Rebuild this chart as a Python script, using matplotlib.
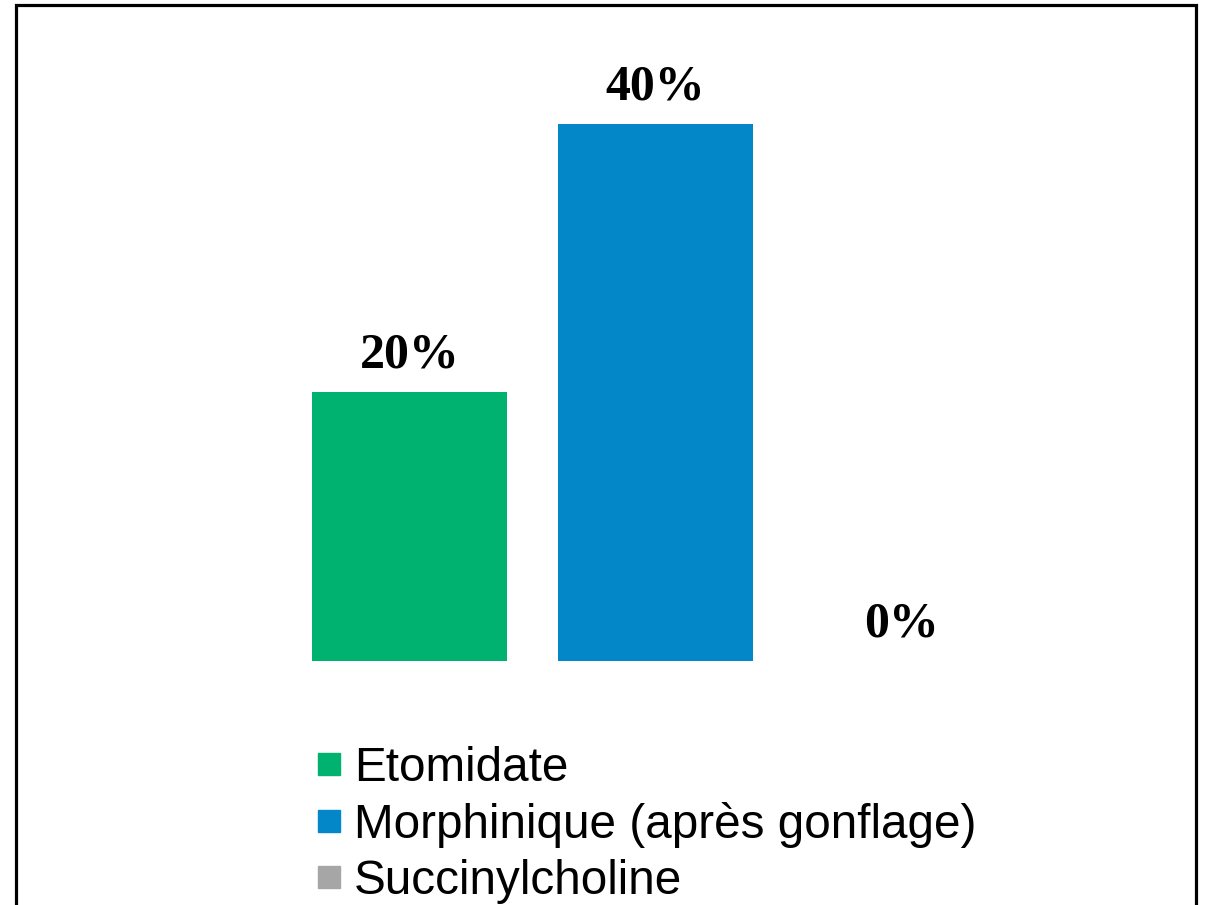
import matplotlib
matplotlib.use("Agg")
import matplotlib.pyplot as plt
from matplotlib.lines import Line2D
from matplotlib.patches import Rectangle

categories = ["Etomidate", "Morphinique (après gonflage)", "Succinylcholine"]
values = [20, 40, 0]
labels = ["20%", "40%", "0%"]
colors = ["#00B26F", "#0487C9", "#A6A6A6"]

W, H = 1207, 905
fig = plt.figure(figsize=(W / 100, H / 100), dpi=100)
fig.patch.set_facecolor("white")

# axes placement in pixels
bottom_px = 661
scale = 13.425  # px per %
ymax = 45
ax_left = 409.5 - 123
ax_w = 3 * 246
ax_h = ymax * scale
ax = fig.add_axes([ax_left / W, (H - bottom_px) / H, ax_w / W, ax_h / H])
ax.set_xlim(-0.5, 2.5)
ax.set_ylim(0, ymax)
ax.axis("off")

x = list(range(len(categories)))
ax.bar(x, values, width=195 / 246, color=colors)
for xi, v, lab in zip(x, values, labels):
    ax.annotate(lab, (xi, v), xytext=(0, 14), textcoords="offset pixels",
                ha="center", va="bottom", fontsize=36, fontweight="bold",
                family="Liberation Serif")

handles = [Line2D([], [], marker="s", linestyle="none", markersize=16,
                  markerfacecolor=c, markeredgecolor=c) for c in colors]
fig.legend(handles, categories, loc="upper left",
           bbox_to_anchor=(315 / W, 1 - 746 / H), frameon=False,
           prop={"family": "Liberation Sans", "size": 34.3},
           labelspacing=0.23, handlelength=0.6, handletextpad=0.22,
           borderpad=0, borderaxespad=0)

# outer frame
fig.patches.append(Rectangle((15.5 / W, -0.1), (1196 - 15.5) / W, 1.1 - 5.5 / H,
                             transform=fig.transFigure, fill=False,
                             edgecolor="black", linewidth=2.3))

fig.savefig("out.png", dpi=100)
